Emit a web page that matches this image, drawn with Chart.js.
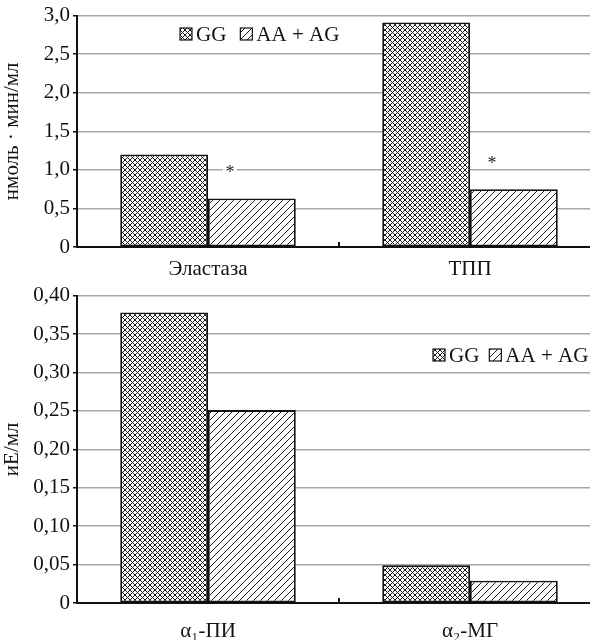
<!DOCTYPE html>
<html>
<head>
<meta charset="utf-8">
<script src="https://cdn.jsdelivr.net/npm/chart.js@4/dist/chart.umd.min.js"></script>
<style>
  html, body { margin: 0; padding: 0; background: #fff; overflow: hidden; }
  #wrap { position: relative; width: 590px; height: 640px; overflow: hidden; }
  #topChart { position: absolute; left: 0; top: 0; }
  #bottomChart { position: absolute; left: 0; top: 280px; }
</style>
</head>
<body>
<div id="wrap">
  <canvas id="topChart" width="610" height="280"></canvas>
  <canvas id="bottomChart" width="610" height="360"></canvas>
</div>
<script>
// top panel: enzyme activity
const topCategories = ['Эластаза', 'ТПП'];
const topGG = [1.20, 2.91];
const topAA = [0.63, 0.75];
const topStars = [true, true]; // significance marks over AA + AG bars

// bottom panel: inhibitors
const bottomCategories = ['α₁-ПИ', 'α₂-МГ'];
const bottomGG = [0.378, 0.049];
const bottomAA = [0.251, 0.029];

const seriesNames = ['GG', 'AA + AG'];
const FONT = '"Liberation Serif", "Times New Roman", serif';

// hatch patterns, made on a small tile canvas
function makePattern(size, cross) {
  let c = document.createElement('canvas');
  c.width = size; c.height = size;
  let g = c.getContext('2d');
  g.fillStyle = '#fff';
  g.fillRect(0, 0, size, size);
  g.strokeStyle = '#1a1a1a';
  g.lineWidth = 1;
  g.beginPath();
  g.moveTo(0, size); g.lineTo(size, 0);
  g.moveTo(-1, 1); g.lineTo(1, -1);
  g.moveTo(size - 1, size + 1); g.lineTo(size + 1, size - 1);
  if (cross) {
    g.moveTo(0, 0); g.lineTo(size, size);
    g.moveTo(-1, size - 1); g.lineTo(1, size + 1);
    g.moveTo(size - 1, -1); g.lineTo(size + 1, 1);
  }
  g.stroke();
  return g.createPattern(c, 'repeat');
}

const crossFill = makePattern(5, true);
const lineFill = makePattern(7, false);

// legend drawn inside the plot area
const boxLegend = {
  id: 'boxLegend',
  afterDraw(chart, args, opts) {
    let ctx = chart.ctx;
    ctx.save();
    ctx.font = '21px ' + FONT;
    ctx.textBaseline = 'middle';
    ctx.fillStyle = '#111';
    let x = opts.x;
    let y = opts.y;
    chart.data.datasets.forEach((ds, i) => {
      ctx.fillStyle = ds.backgroundColor;
      ctx.fillRect(x, y - 6, 12, 12);
      ctx.strokeStyle = '#111';
      ctx.lineWidth = 1.2;
      ctx.strokeRect(x, y - 6, 12, 12);
      ctx.fillStyle = '#111';
      ctx.fillText(ds.label, x + 16, y + 1);
      x += 16 + ctx.measureText(ds.label).width + opts.gap;
    });
    ctx.restore();
  }
};

// small tick between categories, pointing up from the axis
const midTicks = {
  id: 'midTicks',
  afterDraw(chart) {
    let ctx = chart.ctx;
    let xs = chart.scales.x;
    let bottom = chart.chartArea.bottom;
    ctx.save();
    ctx.strokeStyle = '#111';
    ctx.lineWidth = 2;
    for (let i = 0; i < chart.data.labels.length - 1; i++) {
      let px = (xs.getPixelForValue(i) + xs.getPixelForValue(i + 1)) / 2;
      ctx.beginPath();
      ctx.moveTo(px, bottom);
      ctx.lineTo(px, bottom - 5);
      ctx.stroke();
    }
    ctx.restore();
  }
};

// asterisks over the AA + AG bars
const starMarks = {
  id: 'starMarks',
  afterDatasetsDraw(chart, args, opts) {
    if (!opts.flags) return;
    let ctx = chart.ctx;
    let meta = chart.getDatasetMeta(1);
    ctx.save();
    ctx.font = '18px ' + FONT;
    ctx.textAlign = 'center';
    ctx.textBaseline = 'middle';
    opts.flags.forEach((flag, i) => {
      if (!flag) return;
      let bar = meta.data[i];
      let sx = bar.x - 22;
      let sy = bar.y - 28;
      ctx.fillStyle = '#fff';
      ctx.fillRect(sx - 7, sy - 6, 14, 12);
      ctx.fillStyle = '#222';
      ctx.fillText('*', sx, sy + 3);
    });
    ctx.restore();
  }
};

function buildChart(id, labels, gg, aa, yMax, yStep, decimals, yTitle, legendPos, stars, xPad, xHeight) {
  let ctx = document.getElementById(id).getContext('2d');
  return new Chart(ctx, {
    type: 'bar',
    data: {
      labels: labels,
      datasets: [{
        label: seriesNames[0],
        data: gg,
        backgroundColor: crossFill,
        borderColor: '#111',
        borderWidth: 1.8,
        borderSkipped: false,
        barPercentage: 1,
        categoryPercentage: 0.67
      }, {
        label: seriesNames[1],
        data: aa,
        backgroundColor: lineFill,
        borderColor: '#111',
        borderWidth: 1.8,
        borderSkipped: false,
        barPercentage: 1,
        categoryPercentage: 0.67
      }]
    },
    options: {
      responsive: false,
      animation: false,
      layout: { padding: { top: 15, right: 9, left: 0, bottom: 0 } },
      plugins: {
        legend: { display: false },
        tooltip: { enabled: false },
        boxLegend: legendPos,
        starMarks: { flags: stars }
      },
      scales: {
        x: {
          grid: { display: false },
          border: { color: '#111', width: 2 },
          ticks: { color: '#111', font: { family: FONT, size: 21 }, padding: xPad },
          afterFit: (scale) => { scale.height = xHeight; }
        },
        y: {
          min: 0,
          max: yMax,
          grid: { color: '#a8a8a8', lineWidth: 1.5, tickLength: 4, tickColor: '#111' },
          border: { color: '#111', width: 2 },
          ticks: {
            stepSize: yStep,
            color: '#111',
            padding: 3,
            font: { family: FONT, size: 21 },
            callback: (v) => v === 0 ? '0' : v.toFixed(decimals).replace('.', ',')
          },
          title: {
            display: true,
            text: yTitle,
            color: '#111',
            font: { family: FONT, size: 21 },
            padding: { top: 0, bottom: 2 }
          },
          afterFit: (scale) => { scale.width = 77; }
        }
      }
    },
    plugins: [boxLegend, midTicks, starMarks]
  });
}

buildChart('topChart', topCategories, topGG, topAA, 3.0, 0.5, 1,
  'нмоль · мин/мл', { x: 180, y: 34, gap: 14 }, topStars, 2, 33);
buildChart('bottomChart', bottomCategories, bottomGG, bottomAA, 0.40, 0.05, 2,
  'иЕ/мл', { x: 433, y: 75, gap: 10 }, null, 8, 37);
</script>
</body>
</html>
